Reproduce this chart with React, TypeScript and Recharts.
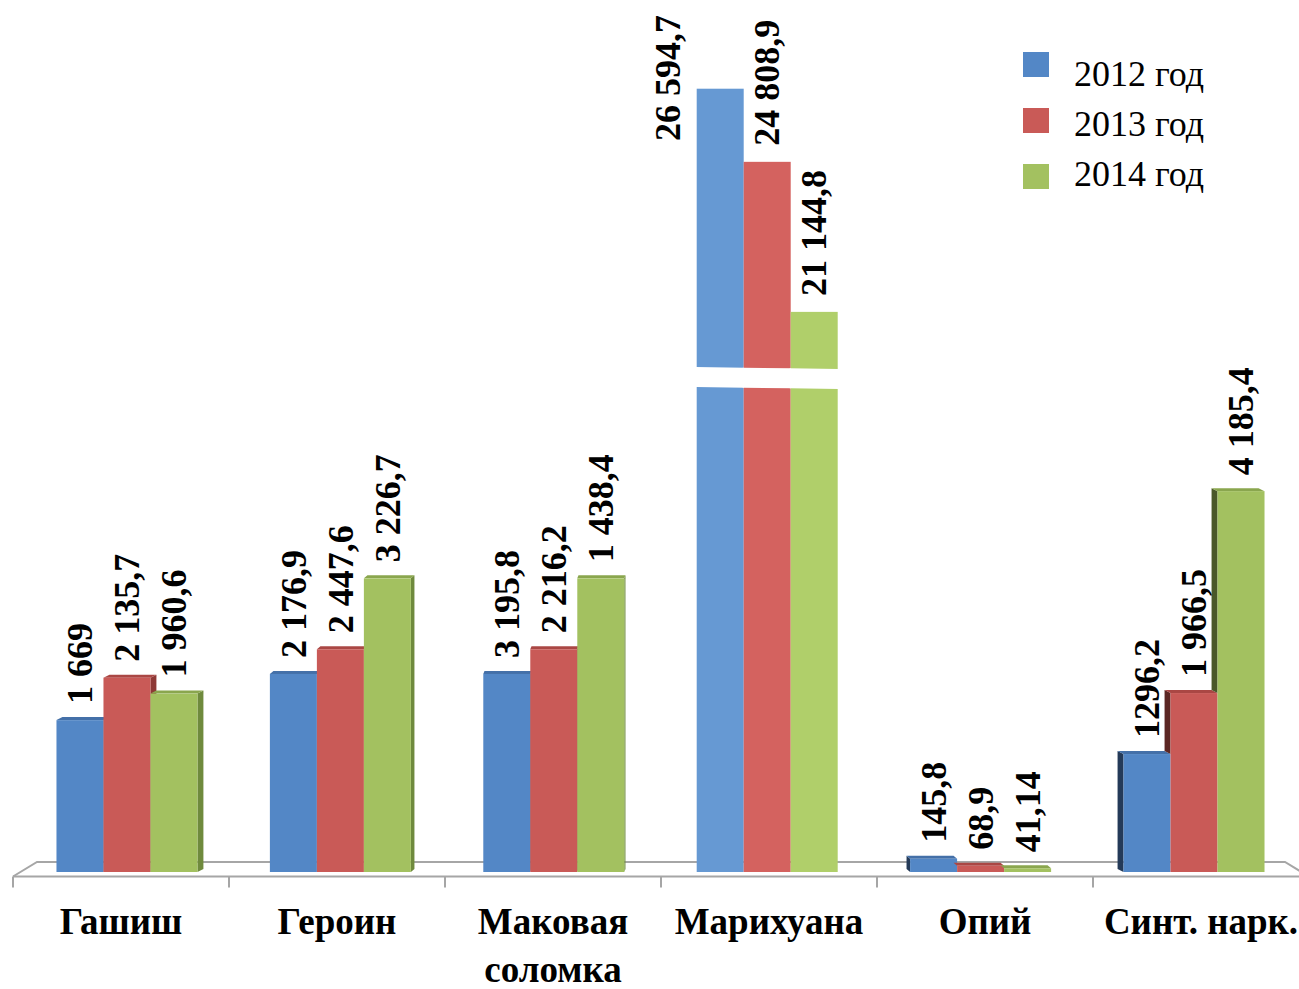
import React from 'react';
import { BarChart, Bar, XAxis, YAxis, Legend, LabelList } from 'recharts';

// ---- data ----
const categories = ['Гашиш', 'Героин', 'Маковая соломка', 'Марихуана', 'Опий', 'Синт. нарк.'];
const categoryLines = [['Гашиш'], ['Героин'], ['Маковая', 'соломка'], ['Марихуана'], ['Опий'], ['Синт. нарк.']];
const seriesNames = ['2012 год', '2013 год', '2014 год'];
// bar heights as drawn in the picture (Маковая соломка bars are drawn with the Героин heights)
const values2012 = [1669, 2176.9, 2176.9, 26594.7, 145.8, 1296.2];
const values2013 = [2135.7, 2447.6, 2447.6, 24808.9, 68.9, 1966.5];
const values2014 = [1960.6, 3226.7, 3226.7, 21144.8, 41.14, 4185.4];
// printed data labels
const labels2012 = ['1 669', '2 176,9', '3 195,8', '26 594,7', '145,8', '1296,2'];
const labels2013 = ['2 135,7', '2 447,6', '2 216,2', '24 808,9', '68,9', '1 966,5'];
const labels2014 = ['1 960,6', '3 226,7', '1 438,4', '21 144,8', '41,14', '4 185,4'];

// broken value axis: lower segment linear, gap, compressed upper segment
const BREAK_LOW = 5330;
const BREAK_HIGH = 5550;
const UPPER_FROM = 19800;
const UPPER_RATIO = 0.45;
const Y_MAX = 9000;
const toAxis = (v: number) => (v <= BREAK_LOW ? v : BREAK_HIGH + (v - UPPER_FROM) * UPPER_RATIO);

const keys = ['a', 'b', 'c'];
const labelKeys = ['la', 'lb', 'lc'];
const table = categories.map((name, i) => ({
  name,
  a: toAxis(values2012[i]),
  b: toAxis(values2013[i]),
  c: toAxis(values2014[i]),
  la: labels2012[i],
  lb: labels2013[i],
  lc: labels2014[i],
}));

// ---- styles ----
const seriesColors = ['#5387c6', '#c95a57', '#a3c160'];
const brokenColors = ['#6699d3', '#d4625f', '#b0cf6a'];
const topColors = ['#4470a8', '#aa4744', '#8aa64e'];
const sideRightColors = ['#3e6390', '#8e3936', '#6f8a3d'];
const sideLeftColors = ['#243a58', '#5c2623', '#4a5829'];
const SERIF = '"Liberation Serif", "Times New Roman", serif';

const W = 1299;
const H = 989;
const CHART_W = 1320;
const M_LEFT = 13;
const M_RIGHT = 11;
const M_TOP = 53;
const X_AXIS_H = 100;
const M_BOTTOM = 17;
const BASE_Y = H - M_BOTTOM - X_AXIS_H;
const BAND = (CHART_W - M_LEFT - M_RIGHT) / categories.length;
const VANISH_X = 660;
const SHIFT_K = 0.012;
const DEPTH_K = 0.011;
const DEPTH_Y = 3;
const LABEL_GAP = 16;
const LABEL_SIZE = 36;

function geometry(series: number, x: number, width: number) {
  const groupCx = x + width * (1.5 - series);
  const shift = SHIFT_K * (VANISH_X - groupCx);
  const depth = DEPTH_K * (VANISH_X - groupCx);
  return { fx: x + shift, depth };
}

function makeShape(series: number) {
  return (props: any) => {
    const { x, y, width, height, payload } = props;
    if (width == null || height == null || height <= 0) return <g />;
    const { fx, depth } = geometry(series, x, width);
    const value = payload[keys[series]];
    const ppu = height / value;
    const baseY = y + height;
    const broken = value > BREAK_LOW;
    if (broken) {
      const yLow = baseY - BREAK_LOW * ppu;
      const yHigh = baseY - BREAK_HIGH * ppu;
      const off = series * 0.7;
      return (
        <g>
          <rect x={fx} y={y} width={width} height={height} fill={brokenColors[series]} />
          <polygon
            points={`${fx - 1},${yHigh + off} ${fx + width + 1},${yHigh + off + 0.7} ${fx + width + 1},${yLow + off + 0.7} ${fx - 1},${yLow + off}`}
            fill="#ffffff"
          />
        </g>
      );
    }
    const parts: React.ReactNode[] = [];
    if (depth > 0) {
      parts.push(
        <polygon
          key="side"
          points={`${fx + width},${y} ${fx + width + depth},${y - DEPTH_Y} ${fx + width + depth},${baseY - DEPTH_Y} ${fx + width},${baseY}`}
          fill={sideRightColors[series]}
        />
      );
    } else {
      let sideBottom = baseY;
      if (series > 0) {
        const nVal = payload[keys[series - 1]];
        const nTop = baseY - nVal * ppu;
        sideBottom = Math.min(baseY, nTop);
      }
      if (sideBottom > y) {
        parts.push(
          <polygon
            key="side"
            points={`${fx},${y} ${fx + depth},${y - DEPTH_Y} ${fx + depth},${sideBottom - DEPTH_Y} ${fx},${sideBottom}`}
            fill={sideLeftColors[series]}
          />
        );
      }
    }
    parts.push(
      <polygon
        key="top"
        points={`${fx},${y} ${fx + depth},${y - DEPTH_Y} ${fx + width + depth},${y - DEPTH_Y} ${fx + width},${y}`}
        fill={topColors[series]}
      />
    );
    parts.push(<rect key="front" x={fx} y={y} width={width} height={height} fill={seriesColors[series]} />);
    return <g>{parts}</g>;
  };
}

function makeLabel(series: number) {
  return (props: any) => {
    const vb = props.viewBox || {};
    const x = props.x ?? vb.x;
    const y = props.y ?? vb.y;
    const width = props.width ?? vb.width;
    const value = props.value;
    if (x == null || y == null || width == null) return null;
    const { fx } = geometry(series, x, width);
    const text = String(value);
    const len = [...text].reduce((s, ch) => s + (ch === ' ' || ch === ',' ? 0.25 : 0.5), 0) * LABEL_SIZE;
    let cx = fx + width / 2;
    let bottom = y - LABEL_GAP;
    if (bottom - len < 0) {
      cx = fx - 29;
      bottom = 15 + len;
    }
    return (
      <text
        transform={`translate(${cx},${bottom}) rotate(-90)`}
        x={0}
        y={0}
        dy="0.34em"
        textAnchor="start"
        fontFamily={SERIF}
        fontWeight="bold"
        fontSize={LABEL_SIZE}
        fill="#000"
      >
        {text}
      </text>
    );
  };
}

const CategoryTick = (props: any) => {
  const { x, y, index } = props;
  const lines = categoryLines[index] || [String(props.payload?.value ?? '')];
  return (
    <g>
      {lines.map((line: string, i: number) => (
        <text
          key={i}
          x={x}
          y={y + 62 + i * 48}
          textAnchor="middle"
          fontFamily={SERIF}
          fontWeight="bold"
          fontSize={37}
          fill="#000"
        >
          {line}
        </text>
      ))}
    </g>
  );
};

const LegendContent = () => (
  <div style={{ position: 'relative', width: 260, height: 160 }}>
    {seriesNames.map((n, i) => (
      <div key={n}>
        <div
          style={{
            position: 'absolute',
            left: 1,
            top: 2 + i * 56,
            width: 26,
            height: 25,
            background: seriesColors[i],
          }}
        />
        <div
          style={{
            position: 'absolute',
            left: 52,
            top: 4 + i * 50,
            fontFamily: SERIF,
            fontSize: 36,
            lineHeight: '40px',
            color: '#000',
            whiteSpace: 'nowrap',
          }}
        >
          {n}
        </div>
      </div>
    ))}
  </div>
);

const Floor = () => {
  const left = M_LEFT;
  const frontY = BASE_Y + 4.5;
  const backY = BASE_Y - 10;
  const d = 24;
  const right = M_LEFT + BAND * categories.length;
  const ticks = Array.from({ length: categories.length + 1 }, (_, i) => left + BAND * i);
  return (
    <svg width={W} height={H} style={{ position: 'absolute', left: 0, top: 0 }}>
      <g stroke="#a6a6a6" strokeWidth={2} fill="none">
        <polyline points={`${left},${frontY} ${left + d},${backY} ${right - d},${backY} ${right},${frontY}`} />
        <line x1={left} y1={frontY} x2={right} y2={frontY} />
        {ticks.map((t) => (
          <line key={t} x1={t} y1={frontY} x2={t} y2={frontY + 11} />
        ))}
      </g>
    </svg>
  );
};

export default function App() {
  return (
    <div
      style={{
        position: 'absolute',
        left: 0,
        top: 0,
        width: W,
        height: H,
        overflow: 'hidden',
        background: '#ffffff',
      }}
    >
      <Floor />
      <div style={{ position: 'absolute', left: 0, top: 0 }}>
        <BarChart
          width={CHART_W}
          height={H}
          data={table}
          margin={{ top: M_TOP, right: M_RIGHT, bottom: M_BOTTOM, left: M_LEFT }}
          barCategoryGap={37}
          barGap={0}
        >
          <XAxis
            dataKey="name"
            height={X_AXIS_H}
            axisLine={false}
            tickLine={false}
            tickSize={0}
            tickMargin={0}
            interval={0}
            tick={<CategoryTick />}
          />
          <YAxis hide domain={[0, Y_MAX]} allowDataOverflow />
          <Legend
            layout="vertical"
            align="center"
            verticalAlign="middle"
            wrapperStyle={{ left: 1022, top: 50, width: 260, height: 160 }}
            content={<LegendContent />}
          />
          {keys.map((k, s) => (
            <Bar key={k} dataKey={k} name={seriesNames[s]} isAnimationActive={false} shape={makeShape(s)}>
              <LabelList dataKey={labelKeys[s]} content={makeLabel(s)} />
            </Bar>
          ))}
        </BarChart>
      </div>
    </div>
  );
}
